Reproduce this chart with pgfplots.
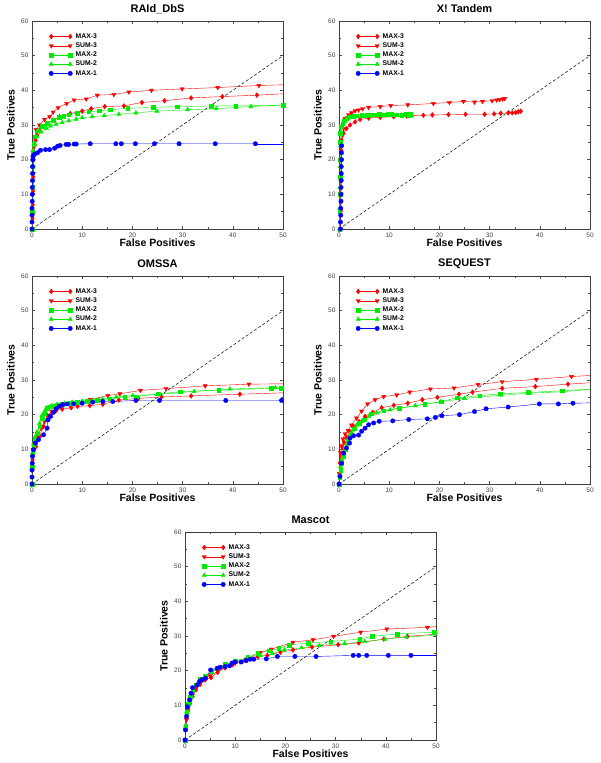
\documentclass[border=0pt]{standalone}
\usepackage{fontspec}
\setmainfont{Liberation Sans}
\usepackage{pgfplots}
\pgfplotsset{compat=1.18}
\definecolor{cR}{RGB}{255,0,0}
\definecolor{cG}{RGB}{0,235,0}
\definecolor{cB}{RGB}{0,0,255}
\pgfplotsset{
  panel/.style={
    scale only axis, width=251pt, height=208pt,
    xmin=0, xmax=50, ymin=0, ymax=60,
    xtick={0,10,...,50}, ytick={0,10,...,60},
    minor tick num=1,
    tick align=inside, major tick length=3pt, minor tick length=2pt,
    tick style={black!70, thin},
    axis line style={black!75, thin},
    /pgf/number format/assume math mode=true,
    ticklabel style={font=\fontsize{6.5}{7}\selectfont, text=black!75},
    xlabel={False Positives}, ylabel={True Positives},
    label style={font=\bfseries\fontsize{10.5}{12}\selectfont},
    xlabel style={at={(axis description cs:0.5,-0.067)}, anchor=center},
    ylabel style={at={(axis description cs:-0.084,0.5)}, anchor=center},
    title style={at={(axis description cs:0.5,1.03)}, anchor=center, font=\bfseries\fontsize{11}{13}\selectfont},
    legend style={at={(axis description cs:0.055,0.955)}, anchor=north west, draw=none, fill=none,
      font=\bfseries\fontsize{6.8}{7}\selectfont, row sep=1.4pt,
      nodes={inner sep=0.8pt},
      /tikz/every odd column/.append style={column sep=2.5pt}},
    legend cell align=left,
    legend image code/.code={\draw[#1] plot coordinates {(0pt,0pt) (19pt,0pt)};},
    clip=true,
    every axis plot/.append style={line width=0.4pt},
  },
  smax3/.style={cR, mark=diamond*, mark size=2.4pt, mark options={solid, fill=cR}},
  ssum3/.style={cR, mark=triangle*, mark size=2.4pt, mark options={solid, fill=cR, rotate=180}},
  smax2/.style={cG, mark=square*, mark size=1.8pt, mark options={solid, fill=cG}},
  ssum2/.style={cG, mark=triangle*, mark size=2.4pt, mark options={solid, fill=cG}},
  smax1/.style={cB, mark=*, mark size=2.2pt, mark options={solid, fill=cB}},
  diag/.style={black, dashed, dash pattern=on 3pt off 2pt, line width=0.5pt, forget plot},
}
\begin{document}
\begin{tikzpicture}
\useasboundingbox (0,0) rectangle (600pt,763pt);

% ---------------- RAId_DbS ----------------
\begin{axis}[panel, at={(32pt,534pt)}, anchor=south west, title={RAId\_DbS}]
\addplot[smax3] coordinates {(0.05,0)(0.1,3)(0.15,7)(0.2,11)(0.25,15)(0.3,18)(0.35,20)(0.4,22)(0.5,24)(0.7,25.5)(1.0,27)(1.5,28.3)(2.2,29.5)(3.0,30.5)(4.2,31.4)(5.5,32.4)(7.6,33.3)(10.0,34.0)(11.8,34.7)(14.5,35.3)(18.3,35.5)(21.9,36.5)(26.4,37.0)(31.7,37.8)(37.9,38.2)(44.8,38.6)};
\addplot[ssum3] coordinates {(0.05,0)(0.1,4)(0.2,10)(0.3,16)(0.4,21)(0.5,24)(0.6,26)(0.8,28.7)(1.5,30.0)(2.5,31.6)(3.5,32.4)(4.2,33.7)(5.2,35.0)(6.9,36.2)(8.4,37.2)(10.8,37.5)(13.0,38.6)(16.3,38.8)(19.3,39.5)(23.8,40.0)(29.9,40.4)(37.0,40.8)(45.2,41.4)};
\addplot[smax2] coordinates {(0,0)(0.05,5)(0.1,12)(0.15,18)(0.2,22)(0.3,24.5)(0.5,26.6)(1.1,28.3)(2.0,29.7)(3.0,30.6)(4.2,31.4)(5.4,32.2)(6.3,32.6)(7.3,33.0)(9.0,33.4)(11.3,33.8)(13.4,34.1)(15.6,34.4)(19.1,34.8)(24.2,35.1)(28.9,35.3)(35.7,35.5)(40.6,35.5)(50,35.7)};
\addplot[ssum2] coordinates {(0,0)(0.05,6)(0.1,14)(0.15,20)(0.2,22.7)(0.5,24.7)(1.0,26.6)(1.8,28.0)(2.9,29.0)(3.7,29.7)(4.8,30.2)(6.0,30.7)(7.3,31.2)(8.8,31.7)(10.0,32.1)(12.0,32.4)(14.4,32.7)(17.3,33.1)(20.7,33.5)(24.9,34.0)(31.0,34.4)(36.7,34.7)(43.6,35.3)};
\addplot[smax1] coordinates {(0,0)(0,2)(0,4)(0,6)(0.05,8)(0.05,10)(0.05,12)(0.1,14)(0.1,16)(0.1,18)(0.15,20)(0.2,21)(0.5,21.6)(1.1,22.0)(1.7,22.7)(2.7,22.9)(3.5,22.9)(4.5,23.3)(5.1,23.9)(5.6,24.1)(6.8,24.4)(7.3,24.4)(8.4,24.5)(8.8,24.5)(11.6,24.6)(16.7,24.6)(17.8,24.6)(20.6,24.6)(24.4,24.6)(29.3,24.6)(36.5,24.6)(44.5,24.6)};
\addplot[cR, forget plot] coordinates {(44.8,38.6)(50,39.0)};
\addplot[cR, forget plot] coordinates {(45.2,41.4)(50,41.6)};
\addplot[cG, forget plot] coordinates {(43.6,35.3)(50,35.8)};
\addplot[cB, forget plot] coordinates {(44.5,24.6)(50,24.6)};
\addplot[diag] coordinates {(0,0)(50,50)};
\legend{MAX-3,SUM-3,MAX-2,SUM-2,MAX-1}
\end{axis}

% ---------------- X! Tandem ----------------
\begin{axis}[panel, at={(339pt,534pt)}, anchor=south west, title={X! Tandem}]
\addplot[smax3] coordinates {(0.2,0)(0.25,5)(0.3,10)(0.35,15)(0.4,20)(0.45,22.7)(0.5,25.6)(0.9,27.6)(1.5,29.0)(2.2,30.0)(3.2,30.9)(4.2,31.6)(5.9,32.0)(8.2,32.2)(10.9,32.4)(13.5,32.6)(16.8,32.8)(18.6,32.9)(21.8,33.0)(25.2,33.1)(29.0,33.1)(30.9,33.2)(32.2,33.4)(33.7,33.5)(34.5,33.5)(35.2,33.6)(35.7,33.8)(36.2,34.0)};
\addplot[ssum3] coordinates {(0.3,0)(0.35,5)(0.4,10)(0.45,15)(0.5,20)(0.55,24)(0.7,27)(0.9,29)(1.2,31.9)(1.9,32.9)(2.5,33.5)(3.2,34.1)(3.9,34.3)(4.7,34.7)(5.9,35.1)(8.2,35.3)(10.3,35.6)(13.7,35.8)(18.8,36.2)(22,36.5)(24.8,36.8)(27,36.6)(28.6,36.8)(30.5,37.0)(31.4,37.2)(32.0,37.3)(32.6,37.5)(33.0,37.6)};
\addplot[smax2] coordinates {(0.1,0)(0.15,5)(0.2,10)(0.2,15)(0.2,20)(0.2,25)(0.2,27.6)(0.4,29.5)(0.7,30.4)(1.0,31.2)(1.5,31.9)(2.2,32.4)(2.9,32.6)(3.5,32.7)(4.5,32.8)(5.5,32.9)(6.3,33.0)(7.2,33.0)(8.0,33.1)(8.9,33.0)(9.7,33.2)(10.5,33.1)(11.5,33.0)(12.5,32.9)(13.4,33.1)(13.9,32.9)(14.2,33.3)};
\addplot[ssum2] coordinates {(0.1,0)(0.15,6)(0.2,12)(0.25,18)(0.3,24)(0.35,28)(0.5,29.5)(0.8,30.5)(1.2,31.2)(1.8,31.8)(2.5,32.2)(3.5,32.4)(5,32.5)(6.5,32.6)(8,32.6)(9.5,32.7)(11,32.7)(12.5,32.8)(13.5,32.7)(14.5,32.6)};
\addplot[smax1] coordinates {(0.3,0)(0.3,2)(0.35,4)(0.35,6)(0.4,8)(0.4,10)(0.4,12)(0.45,14)(0.45,16)(0.45,18)(0.5,20)(0.5,22)(0.5,24)};
\addplot[diag] coordinates {(0,0)(50,50)};
\legend{MAX-3,SUM-3,MAX-2,SUM-2,MAX-1}
\end{axis}

% ---------------- OMSSA ----------------
\begin{axis}[panel, at={(32pt,279pt)}, anchor=south west, title={OMSSA}]
\addplot[smax3] coordinates {(0,0)(0.05,4)(0.1,7)(0.3,9.5)(0.8,10.8)(1.5,13.7)(2.3,16.6)(3.0,19.9)(4.0,20.7)(4.8,21.2)(6.0,21.6)(7.8,22.0)(9.1,22.4)(11.5,22.6)(14.1,23.0)(17.3,24.2)(21.2,24.7)(25.8,25.1)(31.7,25.4)(41.4,25.9)};
\addplot[ssum3] coordinates {(0,0)(0.05,4)(0.1,8)(0.2,10)(0.4,11.5)(0.8,13.5)(1.2,14.5)(1.8,16)(2.5,18)(3.2,19.8)(4.0,21)(5.0,21.8)(6.0,22.3)(7.5,22.8)(9.0,23.3)(11.6,24.4)(15.1,25.5)(17.5,26.0)(21.6,27.0)(26.7,27.5)(34.5,28.3)(43.2,28.8)};
\addplot[smax2] coordinates {(0,0)(0.05,5)(0.1,9)(0.3,11)(0.6,13)(1.0,14.5)(1.5,16.5)(2.0,19)(2.5,20.5)(3.0,21.8)(3.5,22.3)(4.0,22.5)(5.0,22.8)(6.0,23.0)(7.5,23.3)(9.0,23.6)(11,23.9)(13,24.2)(15.5,24.6)(18.5,25.0)(20.7,25.2)(25.2,26.0)(29.5,26.6)(37.2,27.1)(47.6,27.6)(49.7,27.6)};
\addplot[ssum2] coordinates {(0,0)(0.05,5)(0.1,9)(0.3,11.5)(0.6,13.5)(1.0,15)(1.5,17.5)(2.0,19.8)(2.5,21)(3.0,22)(4.0,22.6)(5.0,23.0)(6.5,23.3)(8.0,23.6)(10.0,23.9)(12.0,24.2)(14.0,24.5)(16.8,25.1)(20.1,25.5)(24.9,25.8)(32.3,26.7)(39.4,27.4)(48.5,27.8)};
\addplot[smax1] coordinates {(0,0)(0,2)(0,4)(0.05,6)(0.1,8)(0.3,9.9)(0.7,11.8)(1.3,12.8)(2.3,14.2)(3.0,16.1)(3.2,18.5)(3.7,19.5)(4.3,20.7)(4.8,21.7)(5.4,22.4)(6.1,22.9)(7.0,23.1)(8.3,23.1)(10.0,23.3)(12.1,23.6)(14.1,23.8)(16.1,23.8)(20.7,24.1)(25.4,24.1)(38.6,24.1)(49.7,24.1)};
\addplot[cR, forget plot] coordinates {(41.4,25.9)(50,26.3)};
\addplot[cR, forget plot] coordinates {(43.2,28.8)(50,28.9)};
\addplot[cG, forget plot] coordinates {(48.5,27.8)(50,27.9)};
\addplot[diag] coordinates {(0,0)(50,50)};
\legend{MAX-3,SUM-3,MAX-2,SUM-2,MAX-1}
\end{axis}

% ---------------- SEQUEST ----------------
\begin{axis}[panel, at={(339pt,279pt)}, anchor=south west, title={SEQUEST}]
\addplot[smax3] coordinates {(0,0)(0.1,3)(0.2,6)(0.4,8.5)(0.7,10.5)(1.0,12)(1.5,13.5)(2.2,15)(3.0,16.5)(4.0,18)(5.2,19.5)(6.7,20.7)(8.5,22.0)(10.9,22.7)(13.7,23.3)(16.6,24.3)(19.6,25.0)(23.9,25.9)(26.6,26.5)(32.5,27.6)(39.1,28.1)(45.6,28.8)};
\addplot[ssum3] coordinates {(0,0)(0.1,3)(0.2,6)(0.3,9)(0.5,11)(0.8,13)(1.2,14.5)(1.8,15.5)(2.5,17)(3.5,19)(4.5,21)(5.7,23.1)(7.2,24.3)(8.9,25.2)(11.5,25.7)(14.1,26.5)(18.2,27.4)(22.9,27.7)(27.7,28.7)(32.5,29.5)(39.3,30.2)(46.3,31.0)};
\addplot[smax2] coordinates {(0,0)(0.1,2)(0.3,4)(0.5,6)(0.8,8)(1.2,10)(1.7,12.5)(2.3,14.5)(3.0,16)(4.0,17.5)(5.0,18.5)(6.4,20.3)(8.9,21.2)(12.0,21.9)(17.1,23.0)(20.3,23.7)(23.5,24.9)(28.0,25.5)(32.1,26.0)(37.7,26.4)(44.5,26.9)};
\addplot[ssum2] coordinates {(0,0)(0.1,2.5)(0.3,5)(0.6,7)(1.0,9)(1.5,11.5)(2.0,13.5)(2.7,15.5)(3.5,17)(4.5,18)(6.0,19.5)(7.5,20.5)(10.2,21.4)(15.2,22.6)(20.2,23.7)(25,24.7)(32.2,25.6)(38,26.2)(44.5,26.6)};
\addplot[smax1] coordinates {(0,0)(0.2,2.2)(0.5,6.0)(0.9,8.9)(1.5,10.4)(2.1,11.8)(2.2,13.2)(2.9,13.9)(3.9,14.1)(4.5,15.2)(5.2,16.1)(5.9,17.1)(6.9,17.6)(8.0,18.1)(10.7,18.2)(13.9,18.6)(17.6,18.8)(19.2,19.2)(20.5,19.7)(24.0,20.0)(27.0,20.9)(29.3,21.7)(33.7,22.2)(39.9,23.1)(43.7,23.1)(46.6,23.3)};
\addplot[cR, forget plot] coordinates {(45.6,28.8)(50,29.2)};
\addplot[cR, forget plot] coordinates {(46.3,31.0)(50,31.3)};
\addplot[cG, forget plot] coordinates {(44.5,26.9)(50,27.4)};
\addplot[cG, forget plot] coordinates {(44.5,26.6)(50,27.3)};
\addplot[cB, forget plot] coordinates {(46.6,23.3)(50,23.4)};
\addplot[diag] coordinates {(0,0)(50,50)};
\legend{MAX-3,SUM-3,MAX-2,SUM-2,MAX-1}
\end{axis}

% ---------------- Mascot ----------------
\begin{axis}[panel, at={(185pt,23pt)}, anchor=south west, title={Mascot}]
\addplot[smax3] coordinates {(0,0)(0.1,3)(0.3,6)(0.6,8.5)(1.0,10.5)(1.5,12.5)(2.2,14.5)(3.0,16)(4.0,17.3)(5.2,18)(6.5,19.5)(8.0,20.8)(9.5,21.7)(12,23)(14.5,24)(16.4,24.4)(19.0,25.3)(21.5,26.0)(25.3,26.8)(30.5,27.5)(34.6,28.0)(39.6,29.1)(44.3,29.9)};
\addplot[ssum3] coordinates {(0,0)(0.1,3)(0.3,6)(0.6,9)(1.0,11)(1.5,13)(2.2,15)(3.0,16.5)(4.0,17.8)(5.0,18.5)(6.5,19.8)(8.0,21)(10.0,22.2)(12.5,23.5)(15,25.2)(17.2,26.2)(21.5,28.2)(25.5,28.9)(29.6,29.9)(35.0,31.1)(40.2,32.0)(48.3,32.5)};
\addplot[smax2] coordinates {(0,0)(0.1,4)(0.3,8)(0.6,10.5)(1.0,12.5)(1.5,14.5)(2.2,16)(3.0,17.5)(4.0,18.5)(5.2,19.8)(6.5,20.8)(8.0,21.8)(10.0,22.8)(12.5,23.8)(14.5,25.1)(16.8,25.8)(18.7,26.4)(20.7,27.4)(24.6,28.0)(29.0,28.4)(34.8,29.1)(37.3,29.9)(42.3,30.6)(49.7,31.1)};
\addplot[ssum2] coordinates {(0,0)(0.1,4)(0.3,8)(0.6,10)(1.0,12)(1.5,14)(2.2,15.8)(3.0,17.2)(4.0,18.3)(5.2,19.5)(6.5,20.5)(8.0,21.5)(10.0,22.5)(12.5,23.6)(15,24.3)(17.4,24.9)(19.8,26.0)(23.2,26.6)(26.8,27.3)(31.8,27.8)(35.8,28.4)(39.8,29.1)(44.1,29.7)};
\addplot[smax1] coordinates {(0,0)(0.1,2.9)(0.3,6.8)(0.5,9.6)(0.9,11.6)(1.2,13.5)(1.5,15.1)(2.4,15.9)(2.9,16.9)(3.4,17.4)(4.1,17.8)(5.1,20.2)(6.4,20.7)(7.0,21.0)(8.0,21.2)(8.9,21.4)(9.4,22.2)(10.0,22.5)(11.2,22.5)(12.2,22.9)(13.0,23.3)(13.7,23.3)(16.2,23.4)(18.4,24.1)(21.9,24.1)(26.1,24.1)(33.5,24.4)(34.6,24.4)(36.2,24.4)(40.5,24.4)(45.0,24.4)};
\addplot[cR, forget plot] coordinates {(44.3,29.9)(50,30.5)};
\addplot[cR, forget plot] coordinates {(48.3,32.5)(50,32.7)};
\addplot[cG, forget plot] coordinates {(44.1,29.7)(50,30.2)};
\addplot[cB, forget plot] coordinates {(45.0,24.4)(50,24.4)};
\addplot[diag] coordinates {(0,0)(50,50)};
\legend{MAX-3,SUM-3,MAX-2,SUM-2,MAX-1}
\end{axis}
\end{tikzpicture}
\end{document}
